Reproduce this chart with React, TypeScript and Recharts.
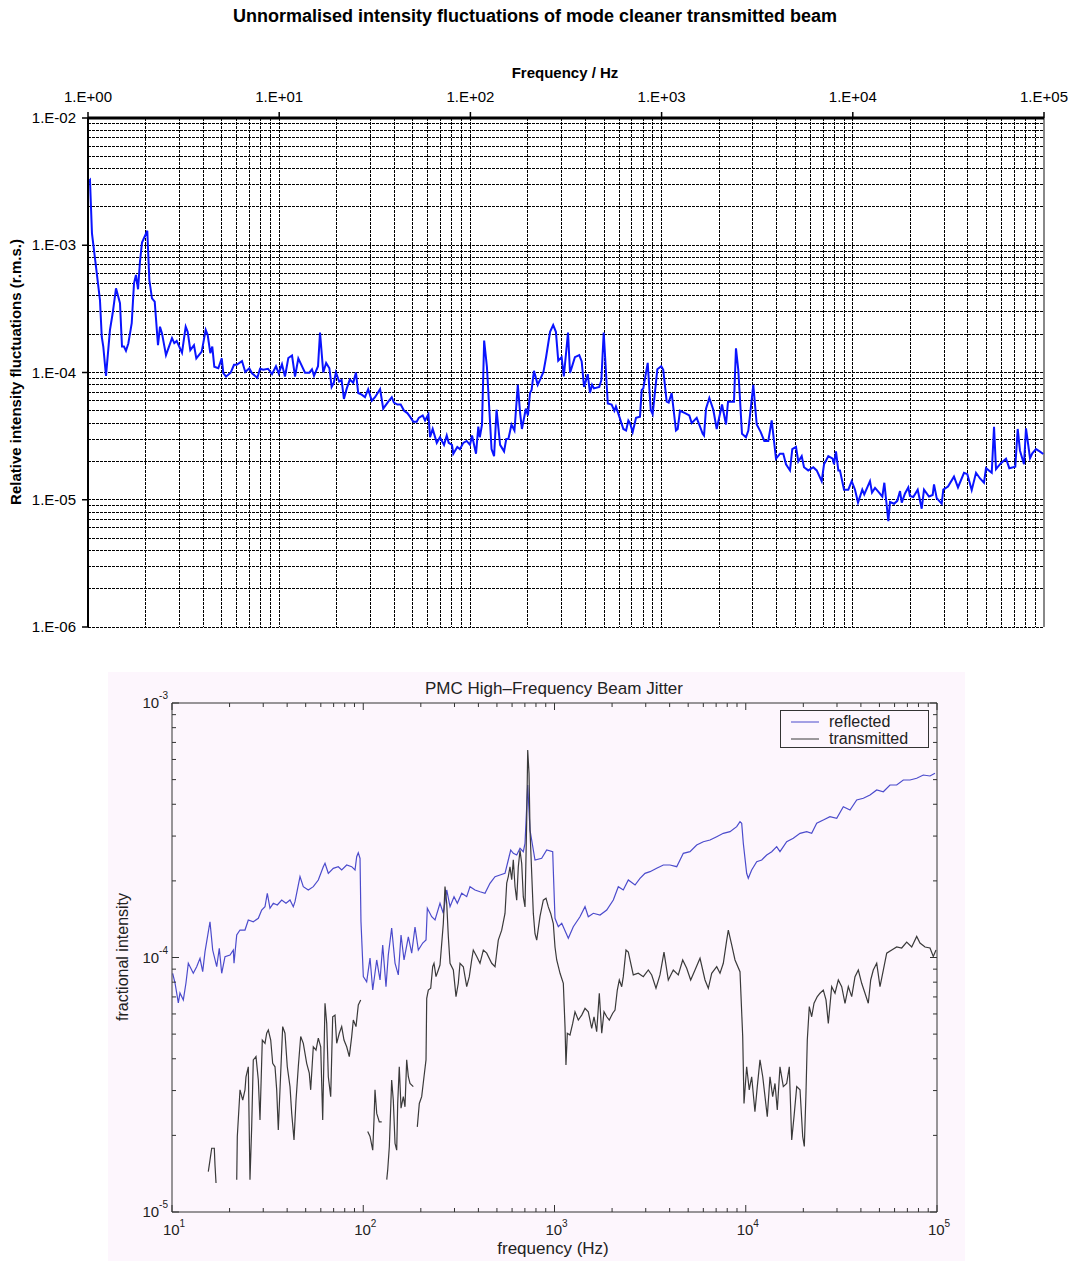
import { LineChart, Line, XAxis, YAxis, ReferenceLine } from "recharts";

const FONT = "Arial, 'Liberation Sans', Helvetica, sans-serif";

// ---- Top chart: mode cleaner transmitted beam (Hz, r.m.s.) ----
const cleanerFreq = [
  1.016, 1.024, 1.049, 1.101, 1.155, 1.18, 1.202, 1.242, 1.303, 1.346,
  1.401, 1.47, 1.506, 1.542, 1.58, 1.625, 1.693, 1.74, 1.782, 1.827,
  1.87, 1.916, 2.042, 2.093, 2.161, 2.233, 2.323, 2.38, 2.438, 2.558,
  2.75, 2.827, 2.909, 3.102, 3.243, 3.322, 3.428, 3.583, 3.686, 3.933,
  4.126, 4.227, 4.362, 4.467, 4.577, 4.803, 5.005, 5.102, 5.271, 5.576,
  5.802, 5.994, 6.389, 6.648, 6.976, 7.206, 7.685, 7.938, 8.26, 8.74,
  9.17, 9.62, 9.94, 10.34, 10.72, 11.16, 11.67, 12.1, 12.59, 13.65,
  14.37, 14.84, 15.21, 15.96, 16.35, 17.0, 17.6, 18.3, 18.8, 19.3,
  19.8, 20.6, 21.2, 21.8, 22.5, 23.4, 24.4, 25.2, 25.9, 27.0,
  28.1, 29.2, 30.5, 31.7, 33.7, 35.0, 37.2, 38.8, 39.8, 41.5,
  43.2, 45.0, 46.8, 48.3, 50.3, 52.4, 53.7, 56.3, 57.9, 60.3,
  61.5, 63.5, 66.7, 69.3, 72.8, 75.2, 77.0, 80.1, 81.4, 85.4,
  88.2, 91.8, 95.6, 99.5, 102, 107, 110, 112, 115, 118,
  122, 129, 133, 137, 143, 150, 154, 158, 164, 170,
  177, 182, 186, 195, 200, 205, 209, 215, 225, 233,
  241, 249, 261, 271, 280, 288, 300, 308, 324, 332,
  352, 371, 382, 393, 411, 422, 433, 443, 472, 484,
  498, 523, 548, 566, 577, 601, 631, 652, 670, 684,
  706, 735, 771, 787, 802, 846, 877, 898, 950, 996,
  1020, 1063, 1089, 1129, 1189, 1214, 1248, 1326, 1396, 1437,
  1526, 1641, 1667, 1707, 1777, 1864, 1942, 2070, 2172, 2225,
  2391, 2449, 2518, 2633, 2763, 2842, 3017, 3145, 3299, 3444,
  3614, 3765, 3966, 4161, 4330, 4473, 4693, 4825, 5045, 5188,
  5405, 5557, 5849, 6215, 6474, 6877, 7071, 7446, 7851, 7975,
  8168, 8400, 8570, 8995, 9474, 9868, 10270, 10650, 11210, 11480,
  12300, 12600, 13070, 13590, 14270, 14620, 15340, 15650, 16430, 17090,
  17660, 18030, 18750, 19510, 19910, 20720, 21850, 22930, 23570, 25030,
  26170, 26590, 27470, 29170, 29730, 31470, 33820, 35490, 38160, 39720,
  41870, 44100, 46280, 48550, 49740, 53290, 54780, 56100, 59360, 63300,
  65850, 70770, 72850, 74890, 78600, 80510, 84500, 86870, 90800, 95300,
  99150,
];
const cleanerRms = [
  3.22e-3, 3.26e-3, 1.24e-3, 6.78e-4, 3.71e-4, 1.91e-4, 1.6e-4, 9.4e-5, 2.16e-4, 2.92e-4,
  4.59e-4, 3.5e-4, 1.6e-4, 1.6e-4, 1.48e-4, 1.69e-4, 2.44e-4, 5.02e-4, 5.84e-4, 4.51e-4,
  7.43e-4, 1.05e-3, 1.3e-3, 5.33e-4, 3.83e-4, 3.6e-4, 1.64e-4, 2.29e-4, 2.03e-4, 1.37e-4,
  1.86e-4, 1.7e-4, 1.77e-4, 1.43e-4, 2.29e-4, 2.09e-4, 1.5e-4, 1.64e-4, 1.29e-4, 1.46e-4,
  2.16e-4, 1.97e-4, 1.42e-4, 1.6e-4, 1.11e-4, 1.08e-4, 1.29e-4, 9.9e-5, 9.3e-5, 9.96e-5,
  1.15e-4, 1.15e-4, 1.23e-4, 1.01e-4, 1.08e-4, 9.86e-5, 9.1e-5, 1.07e-4, 1.05e-4, 1.07e-4,
  9.7e-5, 1.12e-4, 9.86e-5, 1.16e-4, 9.3e-5, 1.3e-4, 1.36e-4, 9.3e-5, 1.29e-4, 9.96e-5,
  9.96e-5, 1.06e-4, 9.4e-5, 1.12e-4, 2.06e-4, 1.0e-4, 1.19e-4, 1.08e-4, 7.7e-5, 8.3e-5,
  1.0e-4, 8.5e-5, 8.7e-5, 6.2e-5, 7.4e-5, 8.8e-5, 8.3e-5, 1.0e-4, 6.9e-5, 6.7e-5,
  6.4e-5, 7.4e-5, 6.0e-5, 6.4e-5, 7.4e-5, 5.2e-5, 5.9e-5, 6.4e-5, 5.8e-5, 5.6e-5,
  5.6e-5, 5.0e-5, 4.8e-5, 4.5e-5, 4.1e-5, 4.1e-5, 4.4e-5, 4.6e-5, 4.2e-5, 4.7e-5,
  3.1e-5, 3.6e-5, 2.8e-5, 3.1e-5, 2.7e-5, 3.2e-5, 2.8e-5, 2.7e-5, 2.3e-5, 2.6e-5,
  2.5e-5, 2.8e-5, 2.9e-5, 2.7e-5, 3.2e-5, 2.3e-5, 3.75e-5, 3.1e-5, 3.9e-5, 1.78e-4,
  1.11e-4, 2.5e-5, 2.2e-5, 5.1e-5, 2.7e-5, 2.4e-5, 3.0e-5, 3.0e-5, 3.9e-5, 3.5e-5,
  8.0e-5, 4.8e-5, 3.6e-5, 5.2e-5, 4.6e-5, 6.9e-5, 7.3e-5, 1.03e-4, 8.0e-5, 9.0e-5,
  1.01e-4, 1.33e-4, 2.09e-4, 2.36e-4, 2.09e-4, 1.24e-4, 1.32e-4, 9.3e-5, 2.06e-4, 9.9e-5,
  1.32e-4, 1.37e-4, 1.22e-4, 7.7e-5, 9.7e-5, 6.9e-5, 8.0e-5, 7.5e-5, 7.7e-5, 8.7e-5,
  2.06e-4, 5.7e-5, 5.6e-5, 5.0e-5, 5.4e-5, 4.5e-5, 3.6e-5, 3.5e-5, 4.2e-5, 4.0e-5,
  3.4e-5, 4.4e-5, 4.5e-5, 7.3e-5, 7.5e-5, 1.19e-4, 5.1e-5, 4.7e-5, 1.06e-4, 1.12e-4,
  1.05e-4, 5.9e-5, 5.8e-5, 6.9e-5, 3.5e-5, 3.6e-5, 5.0e-5, 4.8e-5, 4.6e-5, 4.0e-5,
  4.4e-5, 3.3e-5, 3.2e-5, 5.2e-5, 6.3e-5, 5.1e-5, 3.6e-5, 5.6e-5, 3.9e-5, 5.9e-5,
  5.9e-5, 1.55e-4, 1.05e-4, 3.3e-5, 3.1e-5, 3.5e-5, 8.0e-5, 3.9e-5, 3.4e-5, 2.9e-5,
  2.9e-5, 4.2e-5, 2.1e-5, 2.3e-5, 2.3e-5, 1.9e-5, 1.7e-5, 2.5e-5, 2.6e-5, 2.0e-5,
  2.2e-5, 1.8e-5, 1.7e-5, 1.8e-5, 1.7e-5, 1.4e-5, 1.9e-5, 2.2e-5, 2.1e-5, 1.9e-5,
  2.4e-5, 1.7e-5, 1.7e-5, 1.2e-5, 1.2e-5, 1.4e-5, 1.2e-5, 9.5e-6, 1.2e-5, 1.1e-5,
  1.4e-5, 1.14e-5, 1.24e-5, 1.16e-5, 1.06e-5, 1.36e-5, 6.8e-6, 9.6e-6, 9.3e-6, 9.8e-6,
  1.17e-5, 9.5e-6, 1.12e-5, 1.25e-5, 1.07e-5, 1.05e-5, 1.2e-5, 8.5e-6, 1.2e-5, 1.06e-5,
  1.09e-5, 1.32e-5, 1.03e-5, 9.3e-6, 1.2e-5, 1.27e-5, 1.52e-5, 1.25e-5, 1.63e-5, 1.59e-5,
  1.19e-5, 1.63e-5, 1.47e-5, 1.36e-5, 1.77e-5, 1.63e-5, 3.75e-5, 1.74e-5, 1.93e-5, 2.1e-5,
  1.77e-5, 1.82e-5, 3.6e-5, 2.43e-5, 1.9e-5, 3.64e-5, 2.12e-5, 2.32e-5, 2.5e-5, 2.39e-5,
  2.29e-5,
];

// ---- Bottom chart: PMC beam jitter, reflected ----
const reflectedFreq = [
  10.08, 10.37, 10.79, 11.01, 11.46, 11.83, 12.17, 12.92, 13.46, 14.01,
  14.47, 14.88, 15.8, 16.32, 17.13, 17.67, 18.19, 18.93, 20.11, 20.92,
  21.1, 21.8, 22.68, 24.08, 25.06, 26.61, 28.27, 29.44, 30.64, 31.5,
  32.54, 33.86, 35.53, 37.46, 39.45, 41.4, 43.07, 43.96, 46.7, 48.59,
  51.61, 54.81, 58.21, 61.82, 63.1, 65.66, 69.72, 74.04, 77.14, 81.92,
  87.0, 90.56, 92.4, 94.2, 96.2, 97.3, 100.1, 104.2, 108.5, 112.1,
  117.6, 122.4, 126.4, 131.5, 135.2, 140.8, 146.6, 152.5, 157.6, 163.4,
  172.1, 179.2, 186.5, 194.1, 204.6, 212.9, 216.3, 228.0, 237.3, 251.9,
  262.2, 273.2, 284.3, 298.3, 310.4, 327.3, 347.5, 361.6, 384.0, 407.8,
  433.1, 459.9, 488.6, 518.8, 551.0, 573.3, 590.2, 609.0, 634.5, 660.2,
  686.9, 701.2, 724.3, 744.6, 790.7, 857.1, 910.5, 978.6, 985.6, 1006,
  1047, 1091, 1181, 1254, 1359, 1444, 1502, 1596, 1730, 1875,
  2030, 2156, 2289, 2432, 2637, 2799, 2973, 3157, 3422, 3707,
  4017, 4355, 4716, 5110, 5540, 5998, 6504, 7050, 7632, 8274,
  8968, 9331, 9524, 9710, 10110, 10310, 10740, 11410, 12120, 12870,
  13670, 14510, 15100, 16370, 17730, 19220, 20830, 22120, 23500, 25440,
  27570, 29900, 32370, 35090, 38030, 41190, 44640, 48390, 52400, 56790,
  61550, 66660, 72240, 78310, 84810, 91920, 97610,
];
const reflectedLevel = [
  8.67e-5, 7.94e-5, 6.63e-5, 7.25e-5, 6.81e-5, 7.94e-5, 9.49e-5, 8.67e-5, 9.2e-5, 9.93e-5,
  8.8e-5, 1.054e-4, 1.382e-4, 1.07e-4, 9.2e-5, 1.087e-4, 8.67e-5, 1.007e-4, 1.023e-4, 1.07e-4,
  9.49e-5, 1.226e-4, 1.282e-4, 1.282e-4, 1.404e-4, 1.382e-4, 1.426e-4, 1.537e-4, 1.584e-4, 1.788e-4,
  1.561e-4, 1.633e-4, 1.608e-4, 1.682e-4, 1.633e-4, 1.682e-4, 1.584e-4, 1.657e-4, 2.078e-4, 1.898e-4,
  1.842e-4, 1.898e-4, 2.016e-4, 2.274e-4, 2.345e-4, 2.142e-4, 2.241e-4, 2.274e-4, 2.207e-4, 2.309e-4,
  2.274e-4, 2.207e-4, 2.489e-4, 2.581e-4, 2.453e-4, 1.382e-4, 8.41e-5, 8.03e-5, 9.95e-5, 7.45e-5,
  9.78e-5, 8.16e-5, 1.12e-4, 7.68e-5, 1.023e-4, 1.306e-4, 9.51e-5, 8.54e-5, 1.226e-4, 9.78e-5,
  1.204e-4, 1.041e-4, 1.318e-4, 1.07e-4, 1.14e-4, 1.172e-4, 1.561e-4, 1.446e-4, 1.404e-4, 1.633e-4,
  1.492e-4, 1.842e-4, 1.584e-4, 1.734e-4, 1.633e-4, 1.788e-4, 1.734e-4, 1.898e-4, 1.842e-4, 1.813e-4,
  1.788e-4, 1.957e-4, 2.078e-4, 2.11e-4, 2.142e-4, 2.416e-4, 2.645e-4, 2.567e-4, 2.528e-4, 2.686e-4,
  2.605e-4, 2.81e-4, 4.762e-4, 3.17e-4, 2.416e-4, 2.453e-4, 2.645e-4, 2.605e-4, 2.207e-4, 1.426e-4,
  1.321e-4, 1.363e-4, 1.19e-4, 1.321e-4, 1.446e-4, 1.584e-4, 1.446e-4, 1.492e-4, 1.469e-4, 1.537e-4,
  1.682e-4, 1.898e-4, 1.842e-4, 2.016e-4, 1.927e-4, 2.047e-4, 2.142e-4, 2.174e-4, 2.241e-4, 2.309e-4,
  2.309e-4, 2.274e-4, 2.567e-4, 2.605e-4, 2.767e-4, 2.851e-4, 2.896e-4, 2.984e-4, 3.076e-4, 3.121e-4,
  3.266e-4, 3.418e-4, 3.368e-4, 2.81e-4, 2.142e-4, 2.047e-4, 2.207e-4, 2.378e-4, 2.416e-4, 2.528e-4,
  2.605e-4, 2.725e-4, 2.605e-4, 2.851e-4, 2.94e-4, 3.076e-4, 3.121e-4, 3.076e-4, 3.368e-4, 3.47e-4,
  3.575e-4, 3.524e-4, 3.913e-4, 3.798e-4, 4.158e-4, 4.222e-4, 4.35e-4, 4.551e-4, 4.481e-4, 4.762e-4,
  4.762e-4, 4.982e-4, 4.982e-4, 5.06e-4, 5.212e-4, 5.166e-4, 5.294e-4,
];

// ---- Bottom chart: transmitted (null = dropout, line breaks) ----
const transmittedFreq = [
  15.48, 15.8, 16.13, 16.64, 16.78, 16.99, 19.0, 21.8, 21.95, 22.68,
  23.43, 24.08, 24.37, 25.06, 25.57, 26.1, 26.61, 27.49, 28.27, 28.85,
  29.66, 30.64, 31.27, 31.89, 32.82, 33.61, 34.56, 35.27, 35.96, 36.7,
  37.91, 38.97, 40.07, 41.4, 42.26, 43.45, 44.51, 45.75, 47.09, 48.59,
  50.61, 52.22, 53.11, 54.81, 56.61, 58.21, 59.92, 61.37, 63.1, 64.41,
  65.66, 67.58, 69.22, 71.17, 72.64, 74.94, 77.14, 79.3, 81.92, 84.53,
  87.01, 88.72, 91.65, 94.22, 96.98, 101, 105.5, 108.5, 112.1, 113.8,
  115.2, 117.6, 121.3, 124.9, 128, 132.7, 134.2, 136.9, 140.8, 143.6,
  146.6, 149.6, 151.4, 154.3, 157.6, 162.0, 165.3, 168.7, 172.1, 175.6,
  182.7, 187, 191.7, 196.4, 202.1, 207.8, 212.9, 214.7, 218.9, 225.3,
  230.7, 234.4, 240.1, 246.9, 251.9, 262.2, 267.6, 273.2, 278.5, 284.3,
  295.8, 305.5, 314.0, 320.6, 333.6, 347.5, 358.5, 369.0, 376.2, 392.0,
  407.8, 424.4, 442.2, 469.6, 488.6, 508.3, 529.6, 551.0, 562.5, 573.3,
  585.2, 597.3, 609.0, 621.6, 634.5, 646.7, 660.2, 673.8, 686.9, 701.2,
  715.6, 724.3, 735.8, 744.6, 760.0, 774.9, 790.7, 807.1, 839.9, 874.0,
  902.8, 928.1, 955.2, 985.6, 1006, 1027, 1069, 1112, 1135, 1148,
  1167, 1205, 1245, 1280, 1332, 1388, 1444, 1502, 1565, 1609,
  1662, 1715, 1766, 1815, 1875, 1934, 2015, 2072, 2130, 2182,
  2246, 2289, 2365, 2432, 2582, 2742, 2913, 3094, 3223, 3394,
  3561, 3737, 3936, 4179, 4439, 4681, 4912, 5153, 5429, 5766,
  6123, 6372, 6636, 7050, 7335, 7632, 7951, 8106, 8444, 8787,
  9331, 9640, 9793, 10110, 10430, 10740, 11170, 11490, 11870, 12270,
  12610, 12960, 13390, 13830, 14220, 14620, 15100, 15720, 16370, 16890,
  17390, 17880, 18470, 19220, 19850, 20240, 20650, 20980, 21490, 22120,
  22750, 23670, 24450, 25440, 26280, 27020, 28140, 29290, 30480, 31750,
  33040, 34380, 35810, 37260, 38780, 40380, 42030, 43730, 45010, 46440,
  48390, 50350, 52400, 54580, 57990, 61550, 65380, 69430, 73750, 78310,
  81490, 86560, 91920, 95630, 98810,
];
const transmittedLevel = [
  1.44e-5, 1.6e-5, 1.78e-5, 1.78e-5, 1.53e-5, 1.3e-5, null, 1.34e-5, 1.98e-5, 3.02e-5,
  2.75e-5, 3.02e-5, 3.4e-5, 3.72e-5, 1.34e-5, 2.16e-5, 3.96e-5, 4.08e-5, 3.3e-5, 2.3e-5,
  4.74e-5, 4.6e-5, 5.04e-5, 5.19e-5, 4.74e-5, 3.84e-5, 3.72e-5, 3.02e-5, 2.1e-5, 3.02e-5,
  5.35e-5, 5.04e-5, 3.72e-5, 3.11e-5, 2.44e-5, 1.92e-5, 2.75e-5, 3.72e-5, 4.89e-5, 4.6e-5,
  3.84e-5, 3.51e-5, 3.02e-5, 4.46e-5, 4.33e-5, 4.82e-5, 4.46e-5, 2.3e-5, 6.61e-5, 5.51e-5,
  3.4e-5, 2.84e-5, 5.85e-5, 5.94e-5, 4.6e-5, 5.04e-5, 5.35e-5, 4.74e-5, 4.46e-5, 4.08e-5,
  4.89e-5, 5.68e-5, 5.35e-5, 6.51e-5, 6.81e-5, null, 2.07e-5, 1.98e-5, 1.75e-5, 2.3e-5,
  3.02e-5, 2.44e-5, 2.26e-5, 2.26e-5, null, 1.34e-5, 1.46e-5, 1.81e-5, 3.3e-5, 2.75e-5,
  1.86e-5, 1.75e-5, 2.67e-5, 3.72e-5, 2.56e-5, 2.84e-5, 2.59e-5, 3.96e-5, 3.4e-5, 3.2e-5,
  3.11e-5, null, 2.16e-5, 2.67e-5, 2.84e-5, 3.4e-5, 3.96e-5, 6.91e-5, 7.45e-5, 7.57e-5,
  9.2e-5, 9.49e-5, 8.41e-5, 8.93e-5, 9.34e-5, 1.36e-4, 1.9e-4, 1.63e-4, 1.21e-4, 9.49e-5,
  8.93e-5, 7.02e-5, 7.92e-5, 9.49e-5, 9.2e-5, 7.68e-5, 8.41e-5, 9.78e-5, 1.07e-4, 1.01e-4,
  9.49e-5, 1.07e-4, 1.04e-4, 9.49e-5, 9.2e-5, 1.17e-4, 1.28e-4, 1.49e-4, 1.96e-4, 2.08e-4,
  2.27e-4, 2.02e-4, 2.42e-4, 1.9e-4, 1.68e-4, 2.27e-4, 2.64e-4, 2.34e-4, 1.73e-4, 1.58e-4,
  3.47e-4, 6.54e-4, 5.29e-4, 3.17e-4, 2.14e-4, 1.49e-4, 1.24e-4, 1.17e-4, 1.45e-4, 1.68e-4,
  1.71e-4, 1.58e-4, 1.49e-4, 1.36e-4, 1.1e-4, 9.78e-5, 8.67e-5, 7.92e-5, 5.35e-5, 3.78e-5,
  5.04e-5, 4.96e-5, 5.51e-5, 6.12e-5, 5.68e-5, 5.94e-5, 6.31e-5, 6.12e-5, 5.27e-5, 5.85e-5,
  5.11e-5, 7.24e-5, 5.04e-5, 6.12e-5, 5.85e-5, 5.68e-5, 6.04e-5, 6.22e-5, 7.45e-5, 8.16e-5,
  7.68e-5, 8.41e-5, 1.07e-4, 1.05e-4, 8.54e-5, 8.67e-5, 8.41e-5, 8.93e-5, 8.54e-5, 7.57e-5,
  8.54e-5, 1.05e-4, 8.16e-5, 8.93e-5, 8.54e-5, 9.78e-5, 9.07e-5, 8.16e-5, 8.93e-5, 9.93e-5,
  8.16e-5, 7.57e-5, 8.67e-5, 9.2e-5, 8.67e-5, 9.49e-5, 1.17e-4, 1.28e-4, 1.12e-4, 9.78e-5,
  8.79e-5, 4.89e-5, 2.67e-5, 3.72e-5, 3.02e-5, 3.4e-5, 2.48e-5, 3.11e-5, 3.96e-5, 3.4e-5,
  2.84e-5, 2.37e-5, 3.4e-5, 2.84e-5, 3.2e-5, 2.52e-5, 3.72e-5, 3.11e-5, 3.2e-5, 3.72e-5,
  1.92e-5, 2.37e-5, 3.11e-5, 3.02e-5, 1.98e-5, 1.81e-5, 2.93e-5, 4.74e-5, 6.41e-5, 5.85e-5,
  6.61e-5, 7.02e-5, 7.24e-5, 7.45e-5, 6.81e-5, 5.51e-5, 7.68e-5, 7.24e-5, 8.16e-5, 7.68e-5,
  6.61e-5, 7.68e-5, 7.02e-5, 8.41e-5, 8.93e-5, 7.92e-5, 7.24e-5, 6.61e-5, 8.16e-5, 8.93e-5,
  9.49e-5, 7.68e-5, 8.93e-5, 1.04e-4, 1.07e-4, 1.1e-4, 1.09e-4, 1.15e-4, 1.1e-4, 1.21e-4,
  1.14e-4, 1.1e-4, 1.09e-4, 1.01e-4, 1.07e-4,
];

const cleanerData = cleanerFreq.map((f, i) => ({ f, v: cleanerRms[i] }));
const reflectedData = reflectedFreq.map((f, i) => ({ f, v: reflectedLevel[i] }));
const transmittedData = transmittedFreq.map((f, i) => ({ f, v: transmittedLevel[i] }));

// 1..9 x 10^e for each decade, plus the closing power of ten
function decadeSteps(from: number, to: number): number[] {
  const out: number[] = [];
  for (let e = from; e < to; e++) for (let m = 1; m <= 9; m++) out.push(m * Math.pow(10, e));
  out.push(Math.pow(10, to));
  return out;
}
const isDecade = (v: number) => Math.abs(Math.log10(v) - Math.round(Math.log10(v))) < 1e-6;
const expOf = (v: number) => Math.round(Math.log10(v));

const excelLabel = (v: number) => {
  const e = expOf(v);
  return `1.E${e < 0 ? "-" : "+"}${String(Math.abs(e)).padStart(2, "0")}`;
};

const topXTicks = [1, 10, 100, 1000, 10000, 100000];
const topYTicks = [1e-6, 1e-5, 1e-4, 1e-3, 1e-2];
const topVGrid = decadeSteps(0, 5).filter((f) => f > 1 && f < 100000);
const topHGrid = decadeSteps(-6, -2).filter((v) => v < 0.0099);

const jitterXTicks = decadeSteps(1, 5);
const jitterYTicks = decadeSteps(-5, -3);

const FRAME = "#333";
const JITTER_BG = "#fdf6fd";

// axes need a non-zero box or recharts skips them; 1px keeps the plot where we want it
const AX = 1;

function TopXTick(p: any) {
  return (
    <text x={p.x} y={p.y - 10} textAnchor="middle" fontSize={15} fontFamily={FONT} fill="#000">
      {excelLabel(p.payload.value)}
    </text>
  );
}
function TopYTick(p: any) {
  return (
    <text x={p.x} y={p.y + 5} textAnchor="end" fontSize={15} fontFamily={FONT} fill="#000">
      {excelLabel(p.payload.value)}
    </text>
  );
}

// inward tick marks for the bottom (matlab style) plot
function JitterBottomTick(p: any) {
  const v = p.payload.value;
  const major = isDecade(v);
  return (
    <g>
      <line x1={p.x} y1={p.y} x2={p.x} y2={p.y - (major ? 7 : 4)} stroke={FRAME} />
      {major && (
        <text x={p.x + 2} y={p.y + 23} textAnchor="middle" fontSize={15} fontFamily={FONT} fill="#222">
          10
          <tspan dy={-8} fontSize={10}>{expOf(v)}</tspan>
        </text>
      )}
    </g>
  );
}
function JitterTopTick(p: any) {
  const major = isDecade(p.payload.value);
  return <line x1={p.x} y1={p.y} x2={p.x} y2={p.y + (major ? 7 : 4)} stroke={FRAME} />;
}
function JitterLeftTick(p: any) {
  const v = p.payload.value;
  const major = isDecade(v);
  return (
    <g>
      <line x1={p.x} y1={p.y} x2={p.x + (major ? 7 : 4)} y2={p.y} stroke={FRAME} />
      {major && (
        <text x={p.x - 4} y={p.y + 5} textAnchor="end" fontSize={15} fontFamily={FONT} fill="#222">
          10
          <tspan dy={-9} fontSize={10}>{expOf(v)}</tspan>
        </text>
      )}
    </g>
  );
}
function JitterRightTick(p: any) {
  const major = isDecade(p.payload.value);
  return <line x1={p.x} y1={p.y} x2={p.x - (major ? 7 : 4)} y2={p.y} stroke={FRAME} />;
}

const abs = (left: number, top: number, extra: any = {}) => ({
  position: "absolute" as const,
  left,
  top,
  ...extra,
});
const centered = (x: number, y: number, extra: any = {}) =>
  abs(x, y, { transform: "translate(-50%, -50%)", whiteSpace: "nowrap", lineHeight: 1, ...extra });

export default function App() {
  return (
    <div style={{ position: "absolute", left: 0, top: 0, width: 1070, height: 1261, background: "#fff", fontFamily: FONT }}>
      {/* ---------- top chart ---------- */}
      <div style={centered(535, 16, { fontSize: 18, fontWeight: "bold" })}>
        Unnormalised intensity fluctuations of mode cleaner transmitted beam
      </div>
      <div style={centered(565, 72, { fontSize: 15, fontWeight: "bold" })}>Frequency / Hz</div>
      <div style={centered(15, 372, { fontSize: 15, fontWeight: "bold", transform: "translate(-50%, -50%) rotate(-90deg)" })}>
        Relative intensity fluctuations (r.m.s.)
      </div>
      <div style={abs(0, 0)}>
        <LineChart width={1070} height={640} margin={{ top: 118 - AX, right: 26, bottom: 13, left: 88 - AX }}>
          {topVGrid.map((f) => (
            <ReferenceLine key={"v" + f} x={f} stroke="#000" strokeDasharray="3 1" shapeRendering="crispEdges" />
          ))}
          {topHGrid.map((v) => (
            <ReferenceLine key={"h" + v} y={v} stroke="#000" strokeDasharray="3 1" shapeRendering="crispEdges" />
          ))}
          <ReferenceLine x={100000} stroke="#888" strokeWidth={2} />
          <XAxis
            type="number"
            dataKey="f"
            scale="log"
            domain={[1, 100000]}
            allowDataOverflow
            orientation="top"
            height={AX}
            ticks={topXTicks}
            interval={0}
            tickSize={6}
            tickMargin={0}
            tickLine={{ stroke: "#000", strokeWidth: 1.5 }}
            axisLine={{ stroke: "#000", strokeWidth: 3 }}
            tick={TopXTick}
          />
          <YAxis
            type="number"
            scale="log"
            domain={[1e-6, 1e-2]}
            allowDataOverflow
            width={AX}
            ticks={topYTicks}
            interval={0}
            tickSize={6}
            tickMargin={6}
            tickLine={{ stroke: "#000", strokeWidth: 1.5 }}
            axisLine={{ stroke: "#000", strokeWidth: 2 }}
            tick={TopYTick}
          />
          <Line
            data={cleanerData}
            dataKey="v"
            type="linear"
            stroke="#0a14ff"
            strokeWidth={2}
            dot={false}
            isAnimationActive={false}
          />
        </LineChart>
      </div>

      {/* ---------- bottom chart ---------- */}
      <div style={abs(108, 672, { width: 857, height: 589, background: JITTER_BG })} />
      <div style={centered(554, 688, { fontSize: 17, color: "#222" })}>PMC High{"\u2013"}Frequency Beam Jitter</div>
      <div style={centered(553, 1248, { fontSize: 17, color: "#222" })}>frequency (Hz)</div>
      <div style={centered(123, 957, { fontSize: 16, color: "#222", transform: "translate(-50%, -50%) rotate(-90deg)" })}>
        fractional intensity
      </div>
      <div style={abs(0, 660)}>
        <LineChart width={1070} height={600} margin={{ top: 43 - AX, right: 133 - AX, bottom: 48 - AX, left: 172 - AX }}>
          <XAxis
            xAxisId="b"
            type="number"
            dataKey="f"
            scale="log"
            domain={[10, 100000]}
            allowDataOverflow
            height={AX}
            ticks={jitterXTicks}
            interval={0}
            tickSize={0}
            tickMargin={0}
            tickLine={false}
            axisLine={{ stroke: FRAME }}
            tick={JitterBottomTick}
          />
          <XAxis
            xAxisId="t"
            orientation="top"
            type="number"
            dataKey="f"
            scale="log"
            domain={[10, 100000]}
            allowDataOverflow
            height={AX}
            ticks={jitterXTicks}
            interval={0}
            tickSize={0}
            tickMargin={0}
            tickLine={false}
            axisLine={{ stroke: FRAME }}
            tick={JitterTopTick}
          />
          <YAxis
            yAxisId="l"
            type="number"
            scale="log"
            domain={[1e-5, 1e-3]}
            allowDataOverflow
            width={AX}
            ticks={jitterYTicks}
            interval={0}
            tickSize={0}
            tickMargin={0}
            tickLine={false}
            axisLine={{ stroke: FRAME }}
            tick={JitterLeftTick}
          />
          <YAxis
            yAxisId="r"
            orientation="right"
            type="number"
            scale="log"
            domain={[1e-5, 1e-3]}
            allowDataOverflow
            width={AX}
            ticks={jitterYTicks}
            interval={0}
            tickSize={0}
            tickMargin={0}
            tickLine={false}
            axisLine={{ stroke: FRAME }}
            tick={JitterRightTick}
          />
          <Line
            xAxisId="b"
            yAxisId="l"
            data={reflectedData}
            dataKey="v"
            type="linear"
            stroke="#4b4bcc"
            strokeWidth={1.2}
            dot={false}
            isAnimationActive={false}
          />
          <Line
            xAxisId="b"
            yAxisId="l"
            data={transmittedData}
            dataKey="v"
            type="linear"
            stroke="#3a3a3a"
            strokeWidth={1.2}
            dot={false}
            connectNulls={false}
            isAnimationActive={false}
          />
        </LineChart>
      </div>

      {/* legend box */}
      <div style={abs(780, 710, { width: 147, height: 36, border: "1px solid " + FRAME, background: JITTER_BG })}>
        <svg width={147} height={36} style={{ position: "absolute", left: 0, top: 0 }}>
          <line x1={10} y1={11} x2={38} y2={11} stroke="#4b4bcc" />
          <line x1={10} y1={28} x2={38} y2={28} stroke="#3a3a3a" />
          <text x={48} y={16} fontSize={16} fontFamily={FONT} fill="#222">reflected</text>
          <text x={48} y={33} fontSize={16} fontFamily={FONT} fill="#222">transmitted</text>
        </svg>
      </div>
    </div>
  );
}
